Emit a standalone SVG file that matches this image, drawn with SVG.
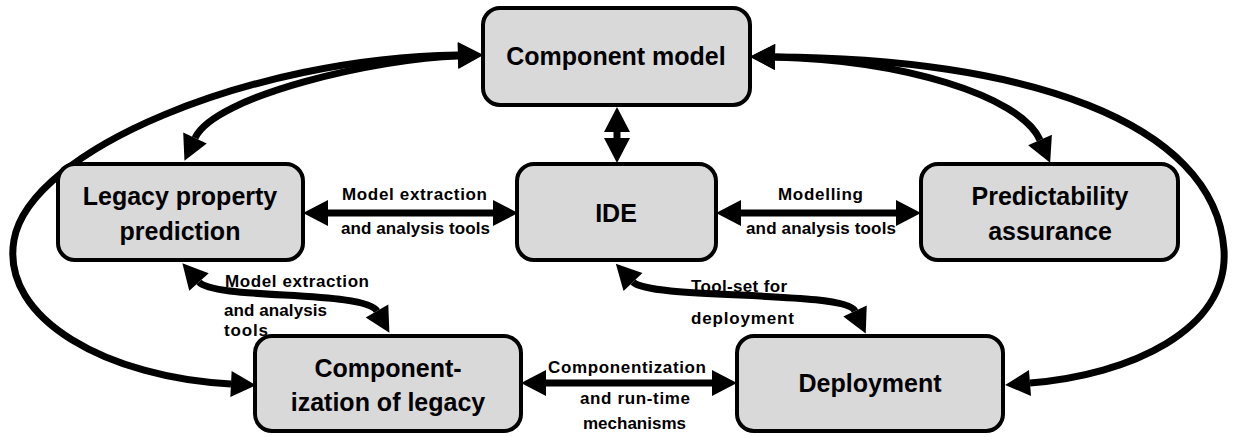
<svg xmlns="http://www.w3.org/2000/svg" width="1236" height="437" viewBox="0 0 1236 437">
<style>
.box{fill:#d9d9d9;stroke:#000;stroke-width:4}
.nt{font-family:"Liberation Sans",Arial,sans-serif;font-weight:bold;font-size:25px;fill:#000;text-anchor:middle}
.el{font-family:"Liberation Sans",Arial,sans-serif;font-weight:bold;font-size:17px;fill:#000}
.c{fill:none;stroke:#000;stroke-width:7;marker-start:url(#ah);marker-end:url(#ah)}
</style>
<defs>
<marker id="ah" viewBox="0 -13 25 26" refX="0" refY="0" markerWidth="25" markerHeight="26" markerUnits="userSpaceOnUse" orient="auto-start-reverse" overflow="visible"><path d="M0,-13 L25,0 L0,13 z" fill="#000"/></marker>
</defs>
<rect width="1236" height="437" fill="#fff"/>
<g id="connectors">
<path class="c" d="M458,55 C250,58 30,150 14,240 C0,320 110,378 231,384"/>
<path class="c" d="M458,56 C380,58 215,95 195,138"/>
<path class="c" d="M775,57 C1020,58 1215,120 1224,250 C1229,330 1130,375 1030,383"/>
<path class="c" d="M775,57 C900,60 1020,95 1040,140"/>
<path class="c" d="M617,132 L617,138"/>
<path class="c" d="M328,213 L493,213"/>
<path class="c" d="M741,213 L896,213"/>
<path class="c" d="M546,383 L712,383"/>
<path class="c" d="M199,282 C215,300 365,290 377,311"/>
<path class="c" d="M633,282 C650,300 845,290 855,311"/>
<text class="el" x="342" y="200" textLength="145" lengthAdjust="spacing">Model extraction</text>
<text class="el" x="341" y="234" textLength="149" lengthAdjust="spacing">and analysis tools</text>
<text class="el" x="778" y="200" textLength="85" lengthAdjust="spacing">Modelling</text>
<text class="el" x="746" y="234" textLength="150" lengthAdjust="spacing">and analysis tools</text>
<text class="el" x="225" y="287" textLength="144" lengthAdjust="spacing">Model extraction</text>
<text class="el" x="224" y="316" textLength="103" lengthAdjust="spacing">and analysis</text>
<text class="el" x="224" y="336" textLength="44" lengthAdjust="spacing">tools</text>
<text class="el" x="691" y="292" textLength="96" lengthAdjust="spacing">Tool-set for</text>
<text class="el" x="691" y="324" textLength="103" lengthAdjust="spacing">deployment</text>
<text class="el" x="548" y="373" textLength="158" lengthAdjust="spacing">Componentization</text>
<text class="el" x="580" y="404" textLength="110" lengthAdjust="spacing">and run-time</text>
<text class="el" x="583" y="429" textLength="103" lengthAdjust="spacing">mechanisms</text>
</g>
<g id="component-model">
<rect class="box" x="483" y="8" width="267" height="97" rx="17"/>
<text class="nt" x="616" y="65">Component model</text>
</g>
<g id="legacy-property-prediction">
<rect class="box" x="58" y="164" width="245" height="96" rx="17"/>
<text class="nt" x="180" y="205">Legacy property</text>
<text class="nt" x="180" y="240">prediction</text>
</g>
<g id="ide">
<rect class="box" x="517" y="164" width="199" height="96" rx="17"/>
<text class="nt" x="616" y="222">IDE</text>
</g>
<g id="predictability-assurance">
<rect class="box" x="921" y="164" width="257" height="96" rx="17"/>
<text class="nt" x="1050" y="205">Predictability</text>
<text class="nt" x="1050" y="240">assurance</text>
</g>
<g id="componentization-of-legacy">
<rect class="box" x="255" y="336" width="266" height="95" rx="17"/>
<text class="nt" x="388" y="377">Component-</text>
<text class="nt" x="388" y="411">ization of legacy</text>
</g>
<g id="deployment">
<rect class="box" x="737" y="336" width="266" height="95" rx="17"/>
<text class="nt" x="870" y="392">Deployment</text>
</g>
</svg>
